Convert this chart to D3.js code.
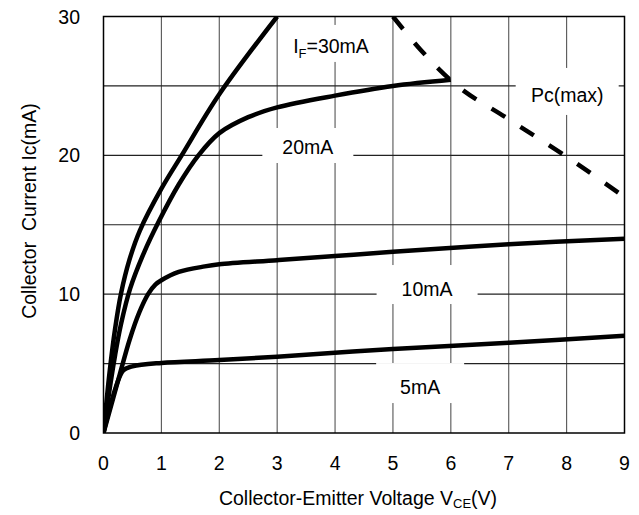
<!DOCTYPE html>
<html>
<head>
<meta charset="utf-8">
<script src="https://cdn.jsdelivr.net/npm/d3@7"></script>
<style>
  html, body { margin: 0; padding: 0; background: #fff; }
  svg { display: block; }
  text { font-family: "Liberation Sans", Arial, Helvetica, sans-serif; fill: #000; }
</style>
</head>
<body>
<svg id="chart" width="639" height="515"></svg>
<script>
// Ic–Vce output characteristics, one curve per forward current
const xTicks = [0, 1, 2, 3, 4, 5, 6, 7, 8, 9];
const yTicks = [0, 10, 20, 30];
const yGrid = [5, 10, 15, 20, 25];

const seriesNames = ["IF=30mA", "20mA", "10mA", "5mA"];

const vce30 = [0, 0.1, 0.2, 0.3, 0.45, 0.63, 1.0, 1.35, 2.0, 3.0];
const ic30  = [0, 4.2, 7.5, 10.0, 12.5, 14.6, 17.6, 20.0, 24.4, 30.0];

const vce20 = [0, 0.1, 0.2, 0.3, 0.46, 0.7, 0.95, 1.3, 1.64, 2.0, 2.5, 3.0, 4.0, 5.0, 6.0];
const ic20  = [0, 3.0, 5.6, 7.8, 10.4, 13.0, 15.2, 17.9, 20.0, 21.6, 22.75, 23.45, 24.3, 25.0, 25.45];

const vce10 = [0, 0.28, 0.45, 0.62, 0.77, 0.9, 1.0, 1.3, 1.75, 2.0, 3.0, 4.0, 5.0, 7.0, 9.0];
const ic10  = [0, 4.2, 6.7, 8.7, 10.0, 10.7, 11.0, 11.6, 12.0, 12.15, 12.45, 12.75, 13.05, 13.6, 14.0];

const vce5 = [0, 0.34, 0.5, 1.0, 2.0, 3.0, 5.0, 7.0, 9.0];
const ic5  = [0, 4.5, 4.8, 5.05, 5.25, 5.5, 6.05, 6.5, 7.0];

// maximum collector power dissipation boundary
const vcePc = [5.0, 5.5, 6.0, 7.0, 8.0, 9.0];
const icPc  = [30.0, 27.5, 25.4, 22.6, 19.9, 17.0];

const svg = d3.select("#chart");
const x = d3.scaleLinear().domain([0, 9]).range([103.5, 624.5]);
const y = d3.scaleLinear().domain([0, 30]).range([433, 16.5]);

const FONT = 19.5;

svg.append("clipPath").attr("id", "plot-clip")
  .append("rect")
  .attr("x", x(0)).attr("y", y(30))
  .attr("width", x(9) - x(0)).attr("height", y(0) - y(30));

// grid
const grid = svg.append("g");
grid.selectAll("line.v").data(xTicks.slice(1, -1)).join("line")
  .attr("x1", d => x(d)).attr("x2", d => x(d))
  .attr("y1", y(0)).attr("y2", y(30))
  .attr("stroke", "#555").attr("stroke-width", 1.1);
grid.selectAll("line.h").data(yGrid).join("line")
  .attr("x1", x(0)).attr("x2", x(9))
  .attr("y1", d => y(d)).attr("y2", d => y(d))
  .attr("stroke", "#222").attr("stroke-width", 1.1);

// curve labels sit on white patches that break the grid
const labels = [
  { v: 3.93, i: 27.88, w: 98,  h: 37, dy: -2.5, key: "if30" },
  { v: 3.53, i: 20.6,  w: 91,  h: 35, dy: -1.5, key: "20" },
  { v: 5.59, i: 10.37, w: 101, h: 39, dy: -4.5, key: "10" },
  { v: 5.47, i: 3.31,  w: 88,  h: 40, dy: -4,   key: "5" },
  { v: 8.01, i: 24.35, w: 103, h: 47, dy: -3.5, key: "pc" }
];
svg.append("g").selectAll("rect").data(labels).join("rect")
  .attr("x", d => x(d.v) - d.w / 2)
  .attr("y", d => y(d.i) - d.h / 2 + d.dy)
  .attr("width", d => d.w).attr("height", d => d.h)
  .attr("fill", "#fff");

// characteristic curves
const line = d3.line().x(d => x(d[0])).y(d => y(d[1])).curve(d3.curveCatmullRom.alpha(0.5));
const curves = [
  [vce30, ic30], [vce20, ic20], [vce10, ic10], [vce5, ic5]
];
const plot = svg.append("g").attr("clip-path", "url(#plot-clip)");
plot.selectAll("path.curve").data(curves).join("path")
  .attr("d", d => line(d3.zip(d[0], d[1])))
  .attr("fill", "none").attr("stroke", "#000")
  .attr("stroke-width", 4.5).attr("stroke-linejoin", "round");

const pcLine = d3.line().x(d => x(d[0])).y(d => y(d[1])).curve(d3.curveMonotoneX);
plot.append("path")
  .attr("d", pcLine(d3.zip(vcePc, icPc)))
  .attr("fill", "none").attr("stroke", "#000")
  .attr("stroke-width", 4.5)
  .attr("stroke-dasharray", "16,18");

// frame
svg.append("rect")
  .attr("x", x(0)).attr("y", y(30))
  .attr("width", x(9) - x(0)).attr("height", y(0) - y(30))
  .attr("fill", "none").attr("stroke", "#000").attr("stroke-width", 1.5);

// label texts
const labelText = svg.append("g").attr("font-size", FONT);
function placed(d) {
  return labelText.append("text")
    .attr("x", x(d.v)).attr("y", y(d.i))
    .attr("dy", "0.36em").attr("text-anchor", "middle");
}
const byKey = Object.fromEntries(labels.map(d => [d.key, d]));
{
  const t = placed(byKey.if30);
  t.append("tspan").text("I");
  t.append("tspan").attr("font-size", 13).attr("dy", 5).text("F");
  t.append("tspan").attr("dy", -5).text(seriesNames[0].slice(2));
}
placed(byKey["20"]).text(seriesNames[1]);
placed(byKey["10"]).text(seriesNames[2]);
placed(byKey["5"]).text(seriesNames[3]);
placed(byKey.pc).text("Pc(max)");

// tick labels
const axes = svg.append("g").attr("font-size", FONT);
axes.selectAll("text.xt").data(xTicks).join("text")
  .attr("x", d => x(d)).attr("y", 470)
  .attr("text-anchor", "middle").text(d => d);
axes.selectAll("text.yt").data(yTicks).join("text")
  .attr("x", 80).attr("y", d => y(d))
  .attr("dy", "0.36em").attr("text-anchor", "end").text(d => d);

// axis titles
const xt = axes.append("text").attr("x", 358).attr("y", 505).attr("text-anchor", "middle");
xt.append("tspan").text("Collector-Emitter Voltage V");
xt.append("tspan").attr("font-size", 13).attr("dy", 3).text("CE");
xt.append("tspan").attr("dy", -3).text("(V)");

axes.append("text")
  .attr("transform", "translate(36,211) rotate(-90)")
  .attr("text-anchor", "middle")
  .style("white-space", "pre")
  .text("Collector  Current Ic(mA)");
</script>
</body>
</html>
